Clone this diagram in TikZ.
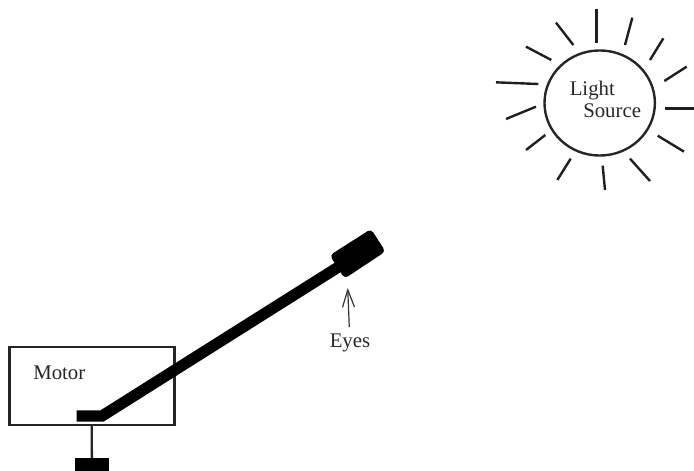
\documentclass[tikz,border=0pt]{standalone}
\usepackage{fontspec}
\setmainfont{Liberation Serif}
\usetikzlibrary{arrows.meta,shapes.geometric}
\tikzset{
  ray/.style={line width=1.8pt,line cap=butt,black!88},
  outline/.style={draw=black!85,line width=1.8pt,outer sep=0pt},
  lever/.style={line width=8.4pt,line join=miter,black},
  lbl/.style={font=\fontsize{15.6}{18}\selectfont,text=black!85,inner sep=0pt,anchor=base west}
}
\begin{document}
\begin{tikzpicture}[x=0.75pt,y=-0.75pt]
\useasboundingbox (0,0) rectangle (694,471);
% sun
\node[ellipse,outline,minimum width=82.8pt,minimum height=78.8pt,inner sep=0pt] (sun) at (599.7,103) {};
\foreach \a/\b/\c/\d in {350/28/350/128,457/53/435/135,550/115/510/180,620/200/553/243,555/326/643/326,533/407/612/455,450/476/510/543,368/497/375/570,272/476/232/540,196/405/138/450,168/320/78/357,175/252/48/247,214/180/138/140,280/135/228/68}
  \draw[ray] ({480+\a/3},{\b/3}) -- ({480+\c/3},{\d/3});
\node[lbl] (light) at (569.5,95.5) {Light};
\node[lbl] (source) at (583,117) {Source};
% motor
\node[outline,minimum width=123.8pt,minimum height=58.7pt,inner sep=0pt,anchor=north west] (motor) at (9.3,346.7) {};
\node[lbl] (motorlabel) at (33,379) {Motor};
% shaft and foot
\node[fill=black,minimum width=25.7pt,minimum height=9.5pt,inner sep=0pt,outer sep=0pt,anchor=north west] (foot) at (74.7,458.3) {};
\coordinate (shafttop) at (91.7,425);
\draw[line width=1.8pt,black!85] (shafttop) -- (foot.north);
% lever
\coordinate (leverstart) at (76.7,416);
\coordinate (leverbend) at (102,416);
\coordinate (leverend) at (340,266);
\draw[lever] (leverstart) -- (leverbend) -- (leverend);
% eyes block
\fill[black,rounded corners=3pt] (329.8,255.3) -- (371,229) -- (385.5,251.5) -- (344.6,278.6) -- cycle;
\coordinate (eyesblock) at (347.7,288);
\node[inner sep=0pt,font=\fontsize{15.6}{18}\selectfont,text=black!85,anchor=base] (eyes) at (350,347.7) {Eyes};
\draw[line width=0.9pt,black!80,-{Straight Barb[length=13pt,width=9pt]}] (349.3,327) -- (eyesblock);
\end{tikzpicture}
\end{document}
